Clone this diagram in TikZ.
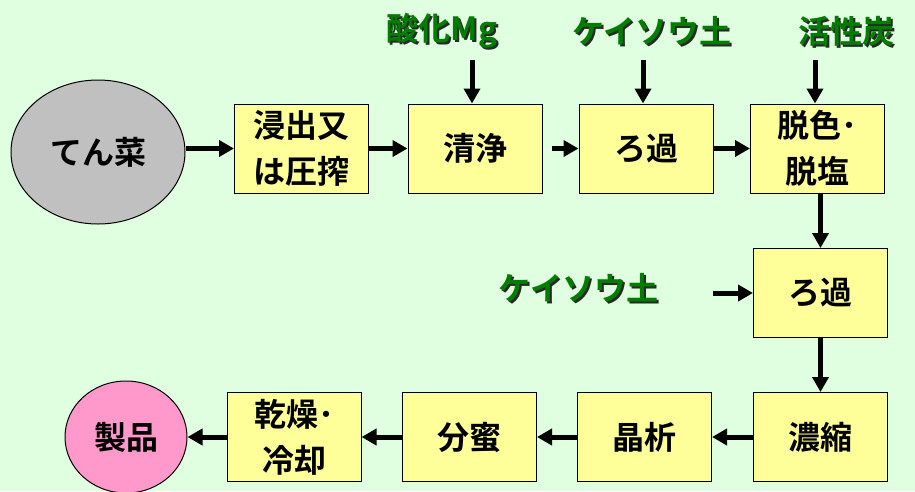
\documentclass[tikz,border=0pt]{standalone}
\usepackage{fontspec}
\newfontfamily\jpb{Noto Sans CJK JP Bold}
\usetikzlibrary{arrows.meta,shapes.geometric}
\definecolor{bg}{RGB}{224,255,224}
\definecolor{boxy}{RGB}{255,255,153}
\definecolor{beet}{RGB}{192,192,192}
\definecolor{prod}{RGB}{255,153,204}
\definecolor{lgreen}{RGB}{0,125,0}
\definecolor{lshadow}{RGB}{40,40,40}
\newcommand\shadowed[1]{\rlap{\kern2pt\raisebox{-2pt}{\textcolor{lshadow}{#1}}}#1}
\begin{document}
\begin{tikzpicture}[x=1pt,y=-1pt,
  proc/.style={draw=black, line width=1pt, fill=boxy, minimum width=134pt, minimum height=89pt,
    inner sep=0pt, align=center, font=\jpb\fontsize{32}{46}\selectfont},
  blob/.style={ellipse, draw=black, line width=1pt, inner sep=0pt, font=\jpb\fontsize{32}{36}\selectfont},
  lab/.style={text=lgreen, inner sep=0pt, font=\jpb\fontsize{32}{36}\selectfont},
  arr/.style={line width=5pt, -{Triangle[length=15pt,width=16pt]}}]
\fill[bg] (0,0) rectangle (915,491);
\useasboundingbox (0,0) rectangle (915,491);
% top row
\node[blob, fill=beet, minimum width=174pt, minimum height=144pt] (beet) at (98,152) {てん菜};
\node[proc] (b1) at (301.5,148.5) {浸出又\\は圧搾};
\node[proc] (b2) at (475,148.5) {清浄};
\node[proc] (b3) at (646,148.5) {ろ過};
\node[proc] (b4) at (817.5,148.5) {脱色･\\脱塩};
% right column
\node[proc] (b5) at (820.5,293) {ろ過};
\node[proc] (b6) at (820.5,437) {濃縮};
% bottom row
\node[proc] (b7) at (644.5,437) {晶析};
\node[proc] (b8) at (469.5,437) {分蜜};
\node[proc] (b9) at (294,437) {乾燥･\\冷却};
\node[blob, fill=prod, minimum width=122pt, minimum height=112pt] (prod) at (126,437) {製品};
% labels
\node[lab] (l1) at (442,32) {\shadowed{酸化Mg}};
\node[lab] (l2) at (652,32) {\shadowed{ケイソウ土}};
\node[lab] (l3) at (846,32) {\shadowed{活性炭}};
\node[lab] (l4) at (578.5,289) {\shadowed{ケイソウ土}};
% input arrow starts
\coordinate (i1) at (472,60);
\coordinate (i2) at (643,60);
\coordinate (i3) at (815,60);
\coordinate (i4) at (713,293);
% flow arrows
\draw[arr] (beet.east |- b1) -- (b1.west);
\draw[arr] (b1) -- (b2);
\draw[arr, shorten <=9pt] (b2) -- (b3);
\draw[arr] (b3) -- (b4);
\draw[arr] (i1) -- (i1 |- b2.north);
\draw[arr] (i2) -- (i2 |- b3.north);
\draw[arr] (i3) -- (i3 |- b4.north);
\draw[arr] (b4.south -| b5) -- (b5.north);
\draw[arr] (i4) -- (b5.west);
\draw[arr] (b5) -- (b6);
\draw[arr] (b6) -- (b7);
\draw[arr] (b7) -- (b8);
\draw[arr] (b8) -- (b9);
\draw[arr] (b9) -- (prod);
\end{tikzpicture}
\end{document}
